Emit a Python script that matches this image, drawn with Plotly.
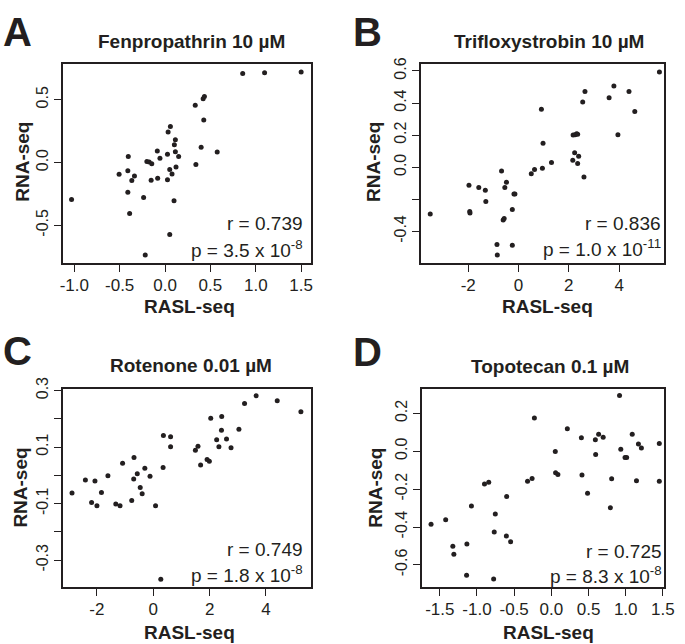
import plotly.graph_objects as go

W, H = 685, 644
INK = "#231f20"
FONT = "Liberation Sans, Arial, sans-serif"

# ---- data ----
a_x = [-1.03, -0.506, -0.405, -0.41, -0.337, -0.366, -0.41, -0.39, -0.236, -0.2, -0.175, -0.146, -0.153,
       -0.085, -0.056, -0.081, -0.218, 0.027, 0.027, 0.034, 0.059, 0.052, 0.077, 0.052, 0.099, 0.114,
       0.103, 0.114, 0.121, 0.15, 0.333, 0.34, 0.398, 0.42, 0.434, 0.427, 0.575, 0.856, 1.097, 1.5]
a_y = [-0.294, -0.094, 0.047, -0.065, -0.107, -0.143, -0.237, -0.406, -0.279, 0.008, 0.003, -0.01, -0.141,
       0.091, 0.034, -0.125, -0.737, 0.065, -0.138, 0.242, 0.286, -0.055, -0.091, -0.573, -0.305, 0.182,
       0.141, 0.086, -0.036, 0.047, 0.456, -0.016, 0.122, 0.508, 0.526, 0.339, 0.083, 0.708, 0.714, 0.721]

b_x = [-3.51, -1.97, -1.94, -1.93, -1.58, -1.32, -1.30, -0.857, -0.844, -0.675, -0.61, -0.571, -0.545,
       -0.48, -0.247, -0.247, -0.182, -0.143, 0.506, 0.636, 0.909, 0.948, 0.974, 1.31, 2.156, 2.169,
       2.247, 2.31, 2.35, 2.23, 2.35, 2.39, 2.55, 2.6, 2.64, 3.6, 3.79, 3.95, 4.39, 4.62, 5.60]
b_y = [-0.292, -0.112, -0.276, -0.285, -0.127, -0.143, -0.214, -0.482, -0.547, -0.024, -0.329, -0.320,
       -0.127, -0.094, -0.486, -0.263, -0.167, -0.167, -0.041, -0.014, 0.361, -0.006, 0.149, 0.029, 0.043,
       0.2, 0.202, 0.208, 0.206, 0.09, 0.024, 0.069, 0.406, -0.061, 0.471, 0.433, 0.506, 0.202, 0.471,
       0.347, 0.594]

c_x = [-2.885, -2.41, -2.07, -2.19, -2.0, -1.84, -1.61, -1.33, -1.18, -1.09, -0.765, -0.684, -0.695,
       -0.568, -0.463, -0.394, -0.30, -0.116, 0.081, 0.267, 0.348, 0.359, 0.614, 0.614, 1.495, 1.587,
       1.68, 1.91, 1.99, 2.04, 2.25, 2.33, 2.42, 2.43, 2.60, 2.76, 3.04, 3.24, 3.65, 4.40, 5.24]
c_y = [-0.062, -0.016, -0.020, -0.096, -0.107, -0.061, -0.001, -0.101, -0.107, 0.043, -0.089, 0.063,
       -0.013, 0.006, -0.043, -0.065, 0.025, -0.003, -0.107, -0.367, 0.028, 0.141, 0.137, 0.101, 0.089,
       0.103, 0.037, 0.056, 0.050, 0.202, 0.126, 0.101, 0.160, 0.208, 0.129, 0.098, 0.163, 0.254, 0.282,
       0.264, 0.225]

d_x = [-1.618, -1.421, -1.325, -1.311, -1.136, -1.14, -1.075, -0.899, -0.842, -0.776, -0.768, -0.754,
       -0.605, -0.601, -0.548, -0.32, -0.259, -0.228, 0.053, 0.057, 0.088, 0.215, 0.404, 0.412, 0.487,
       0.592, 0.596, 0.636, 0.697, 0.794, 0.811, 0.917, 0.934, 0.991, 1.013, 1.088, 1.145, 1.171, 1.211,
       1.452, 1.452]
d_y = [-0.386, -0.362, -0.502, -0.544, -0.49, -0.655, -0.289, -0.173, -0.164, -0.675, -0.426, -0.332,
       -0.447, -0.239, -0.478, -0.159, -0.144, 0.175, -0.002, -0.114, -0.123, 0.119, 0.071, -0.126,
       -0.222, 0.061, -0.017, 0.09, 0.073, -0.298, -0.145, 0.294, 0.010, -0.033, -0.033, 0.09, -0.156,
       0.038, 0.017, 0.040, -0.159]

titles = ["Fenpropathrin 10 µM", "Trifloxystrobin 10 µM", "Rotenone 0.01 µM", "Topotecan 0.1 µM"]
letters = ["A", "B", "C", "D"]
r_texts = ["r = 0.739", "r = 0.836", "r = 0.749", "r = 0.725"]
p_texts = ["p = 3.5 x 10<sup>-8</sup>", "p = 1.0 x 10<sup>-11</sup>",
           "p = 1.8 x 10<sup>-8</sup>", "p = 8.3 x 10<sup>-8</sup>"]

# labelled ticks, plus unlabelled ticks (R dropped their labels)
a_xticks = [-1.0, -0.5, 0.0, 0.5, 1.0, 1.5]
a_xlabels = ["-1.0", "-0.5", "0.0", "0.5", "1.0", "1.5"]
a_yticks = [-0.5, 0.0, 0.5]
a_ylabels = ["-0.5", "0.0", "0.5"]
a_yunlabelled = []
b_xticks = [-2, 0, 2, 4]
b_xlabels = ["-2", "0", "2", "4"]
b_yticks = [-0.4, 0.0, 0.2, 0.4, 0.6]
b_ylabels = ["-0.4", "0.0", "0.2", "0.4", "0.6"]
b_yunlabelled = [-0.2]
c_xticks = [-2, 0, 2, 4]
c_xlabels = ["-2", "0", "2", "4"]
c_yticks = [-0.3, -0.1, 0.1, 0.3]
c_ylabels = ["-0.3", "-0.1", "0.1", "0.3"]
c_yunlabelled = [-0.2, 0.0, 0.2]
d_xticks = [-1.5, -1.0, -0.5, 0.0, 0.5, 1.0, 1.5]
d_xlabels = ["-1.5", "-1.0", "-0.5", "0.0", "0.5", "1.0", "1.5"]
d_yticks = [-0.6, -0.4, -0.2, 0.0, 0.2]
d_ylabels = ["-0.6", "-0.4", "-0.2", "0.0", "0.2"]
d_yunlabelled = []

# ---- layout geometry (pixels) ----
boxes = [  # left, right, top, bottom
    (61, 314, 53, 256),
    (426, 674, 53, 256),
    (61, 314, 384, 586),
    (427, 674, 384, 586),
]
xranges = [(-1.126, 1.609), (-3.88, 5.79), (-3.21, 5.60), (-1.741, 1.518)]
yranges = [(-0.802, 0.784), (-0.598, 0.643), (-0.395, 0.306), (-0.717, 0.329)]

data = [(a_x, a_y), (b_x, b_y), (c_x, c_y), (d_x, d_y)]
ticks = [(a_xticks, a_xlabels, a_yticks, a_ylabels, a_yunlabelled),
         (b_xticks, b_xlabels, b_yticks, b_ylabels, b_yunlabelled),
         (c_xticks, c_xlabels, c_yticks, c_ylabels, c_yunlabelled),
         (d_xticks, d_xlabels, d_yticks, d_ylabels, d_yunlabelled)]

letter_pos = [(-2, 20), (355, 20), (-2, 345), (355, 346)]
title_pos = [(192, 30), (557, 30), (192, 360), (558, 361)]
xtitle_pos = [(190, 300), (555, 300), (190, 632), (556, 632)]
ytitle_pos = [(20, 153), (377, 153), (18, 485), (380, 485)]
rp_pos = [(308, 216, 241), (673, 216, 240), (308, 548, 573), (674, 550, 574)]

px = lambda x: x / W
py = lambda y: 1 - y / H

fig = go.Figure()
annotations = []
for i in range(4):
    n = "" if i == 0 else str(i + 1)
    l, r, t, b = boxes[i]
    xs, ys = data[i]
    fig.add_trace(go.Scatter(x=xs, y=ys, mode="markers", xaxis="x" + n, yaxis="y" + n,
                             marker=dict(size=5, color=INK), showlegend=False, hoverinfo="x+y"))
    xt, xl, yt, yl, yu = ticks[i]
    common = dict(showline=True, linecolor=INK, linewidth=1.6, mirror=True, ticks="outside",
                  ticklen=7, tickwidth=1.4, tickcolor=INK, showgrid=False, zeroline=False)
    yaxis = dict(domain=[py(b), py(t)], range=list(yranges[i]), anchor="x" + n,
                 tickvals=yt, ticktext=yl, tickangle=-90,
                 tickfont=dict(family=FONT, size=16, color=INK), **common)
    if yu:
        yaxis["minor"] = dict(tickvals=yu, ticks="outside", ticklen=7, tickwidth=1.4,
                              tickcolor=INK, showgrid=False)
    fig.update_layout(**{
        "xaxis" + n: dict(domain=[px(l), px(r)], range=list(xranges[i]), anchor="y" + n,
                          tickvals=xt, ticktext=xl, tickangle=0, ticklabelstandoff=-1,
                          tickfont=dict(family=FONT, size=17, color=INK), **common),
        "yaxis" + n: yaxis,
    })
    lx, ly = letter_pos[i]
    annotations.append(dict(text="<b>%s</b>" % letters[i], x=px(lx), y=py(ly), xref="paper", yref="paper",
                            xanchor="left", yanchor="middle", showarrow=False,
                            font=dict(family=FONT, size=40, color=INK)))
    tx, ty = title_pos[i]
    annotations.append(dict(text="<b>%s</b>" % titles[i], x=px(tx), y=py(ty), xref="paper", yref="paper",
                            xanchor="center", yanchor="middle", showarrow=False,
                            font=dict(family=FONT, size=19, color=INK)))
    ax, ay = xtitle_pos[i]
    annotations.append(dict(text="<b>RASL-seq</b>", x=px(ax), y=py(ay), xref="paper", yref="paper",
                            xanchor="center", yanchor="middle", showarrow=False,
                            font=dict(family=FONT, size=19, color=INK)))
    yx, yy = ytitle_pos[i]
    annotations.append(dict(text="<b>RNA-seq</b>", x=px(yx), y=py(yy), xref="paper", yref="paper",
                            xanchor="center", yanchor="middle", showarrow=False, textangle=-90,
                            font=dict(family=FONT, size=19, color=INK)))
    rx, ry, pyy = rp_pos[i]
    annotations.append(dict(text=r_texts[i], x=px(rx), y=py(ry), xref="paper", yref="paper",
                            xanchor="right", yanchor="middle", showarrow=False,
                            font=dict(family=FONT, size=19, color=INK)))
    annotations.append(dict(text=p_texts[i], x=px(rx), y=py(pyy), xref="paper", yref="paper",
                            xanchor="right", yanchor="middle", showarrow=False,
                            font=dict(family=FONT, size=19, color=INK)))

fig.update_layout(width=W, height=H, margin=dict(l=0, r=0, t=0, b=0),
                  paper_bgcolor="white", plot_bgcolor="white", annotations=annotations)
fig.write_html("out.html", config={"displayModeBar": False},
               post_script="document.body.style.margin='0';document.body.style.overflow='hidden';")
